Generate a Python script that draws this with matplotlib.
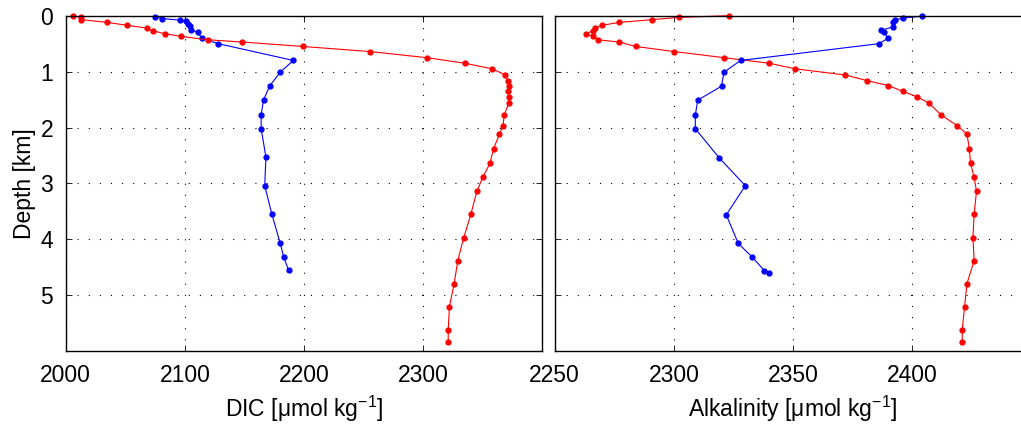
import matplotlib
matplotlib.use('Agg')
import matplotlib.pyplot as plt

# Perfiles de profundidad (km) y valores
red_depth = [0.0, 0.03, 0.07, 0.12, 0.17, 0.22, 0.27, 0.32, 0.37, 0.43, 0.47, 0.55,
             0.64, 0.75, 0.85, 0.95, 1.06, 1.16, 1.25, 1.35, 1.45, 1.56, 1.77, 1.97,
             2.12, 2.38, 2.64, 2.89, 3.14, 3.55, 3.97, 4.38, 4.79, 5.20, 5.62, 5.83]
dic_red = [2006, 2013, 2013, 2035, 2051, 2068, 2073, 2083, 2097, 2119, 2148, 2199,
           2255, 2303, 2335, 2358, 2369, 2371, 2372, 2371, 2372, 2372, 2368, 2367,
           2364, 2359, 2356, 2350, 2345, 2340, 2334, 2329, 2326, 2322, 2321, 2321]
alk_red = [2323, 2302, 2291, 2277, 2270, 2267, 2266, 2263, 2266, 2268, 2277, 2284,
           2300, 2321, 2340, 2351, 2372, 2381, 2390, 2396, 2402, 2407, 2412, 2419,
           2423, 2424, 2424.5, 2426, 2427, 2426, 2425.5, 2426, 2423, 2422, 2421, 2421]

dic_blue_depth = [0.02, 0.05, 0.08, 0.10, 0.15, 0.19, 0.25, 0.30, 0.40, 0.50, 0.80,
                  1.01, 1.26, 1.51, 1.77, 2.02, 2.53, 3.04, 3.55, 4.07, 4.32, 4.55]
dic_blue = [2075, 2081, 2096, 2101, 2103, 2104, 2105, 2111, 2114, 2128, 2191,
            2180, 2171, 2166, 2164, 2164, 2168, 2167, 2173, 2180, 2183, 2187]

alk_blue_depth = [0.01, 0.04, 0.08, 0.12, 0.20, 0.26, 0.30, 0.40, 0.50, 0.80, 1.01,
                  1.26, 1.51, 1.78, 2.02, 2.54, 3.04, 3.56, 4.07, 4.32, 4.56, 4.60]
alk_blue = [2404, 2396, 2393, 2392, 2392, 2387, 2388, 2390, 2386, 2328, 2321,
            2320, 2310, 2309, 2309, 2319, 2330, 2322, 2327, 2333, 2338, 2340]

dic_ticks = [2000, 2100, 2200, 2300]
alk_ticks = [2250, 2300, 2350, 2400]
depth_ticks = [0, 1, 2, 3, 4, 5]

plt.rcParams['font.family'] = ['Liberation Sans', 'DejaVu Sans']
plt.rcParams['mathtext.default'] = 'regular'
plt.rcParams['font.size'] = 16.5

fig = plt.figure(figsize=(10.21, 4.26), dpi=100)
ax1 = fig.add_axes([0.0644, 0.1754, 0.4668, 0.7877])
ax2 = fig.add_axes([0.5433, 0.1754, 0.4668, 0.7877])


def estilo(ax, xlim, xticks):
    ax.set_xlim(xlim)
    ax.set_ylim(6, 0)
    ax.set_xticks(xticks)
    ax.set_yticks(depth_ticks)
    ax.grid(True, color='k', linestyle=(0, (1, 9)), linewidth=0.8)
    ax.tick_params(direction='in', top=True, right=True, length=4, width=0.6, pad=9)
    for s in ax.spines.values():
        s.set_linewidth(1.0)


# los puntos del borde superior se dibujan completos
ax1.plot(dic_blue, dic_blue_depth, '-o', color='b', lw=0.8, ms=3.5, clip_on=False)
ax1.plot(dic_red, red_depth, '-o', color='r', lw=0.8, ms=3.5, clip_on=False)
estilo(ax1, (2000, 2400), dic_ticks)
ax1.set_xlabel('DIC [μmol kg$^{-1}$]', labelpad=5)
ax1.set_ylabel('Depth [km]', labelpad=3)

ax2.plot(alk_red, red_depth, '-o', color='r', lw=0.8, ms=3.5, clip_on=False)
ax2.plot(alk_blue, alk_blue_depth, '-o', color='b', lw=0.8, ms=3.5, clip_on=False)
estilo(ax2, (2250, 2450), alk_ticks)
ax2.set_yticklabels([])
ax2.set_xlabel('Alkalinity [μmol kg$^{-1}$]', labelpad=5)

fig.savefig('out.png', dpi=100)
